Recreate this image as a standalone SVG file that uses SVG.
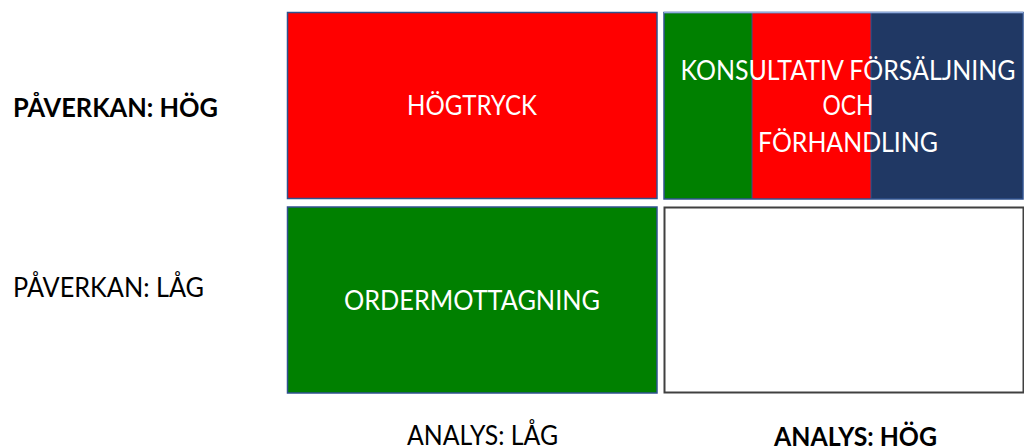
<svg xmlns="http://www.w3.org/2000/svg" width="1024" height="448" viewBox="0 0 1024 448">
  <style>
    .lbl { font-family: Lato, "Open Sans", "Liberation Sans", sans-serif; font-size: 26px; fill: #000; }
    .bold { font-weight: bold; }
    .inner { font-family: Lato, "Open Sans", "Liberation Sans", sans-serif; font-size: 26px; fill: #fff; text-anchor: middle; }
    .cell { stroke: #2F528F; stroke-width: 1.5; }
  </style>
  <rect width="1024" height="448" fill="#fff"/>

  <!-- axis labels -->
  <g id="axis-labels">
    <text class="lbl bold" x="13" y="117" textLength="205" lengthAdjust="spacingAndGlyphs">PÅVERKAN: HÖG</text>
    <text class="lbl" x="13" y="297" textLength="191" lengthAdjust="spacingAndGlyphs">PÅVERKAN: LÅG</text>
    <text class="lbl" x="407" y="445" textLength="151" lengthAdjust="spacingAndGlyphs">ANALYS: LÅG</text>
    <text class="lbl bold" x="774" y="446" textLength="163" lengthAdjust="spacingAndGlyphs">ANALYS: HÖG</text>
  </g>

  <!-- high impact, low analysis -->
  <g id="hogtryck">
    <rect class="cell" x="287.5" y="12.5" width="369.5" height="186" fill="#FF0000"/>
    <text class="inner" x="472" y="115" textLength="130" lengthAdjust="spacingAndGlyphs">HÖGTRYCK</text>
  </g>

  <!-- low impact, low analysis -->
  <g id="ordermottagning">
    <rect class="cell" x="287.5" y="207" width="369.5" height="186" fill="#008000"/>
    <text class="inner" x="472" y="310" textLength="256" lengthAdjust="spacingAndGlyphs">ORDERMOTTAGNING</text>
  </g>

  <!-- high impact, high analysis: three-colour band -->
  <g id="konsultativ">
    <rect x="664" y="12.5" width="88" height="186.5" fill="#008000"/>
    <rect x="752" y="12.5" width="119" height="186.5" fill="#FF0000"/>
    <rect x="871" y="12.5" width="152" height="186.5" fill="#203864"/>
    <rect class="cell" x="664" y="12.5" width="359" height="186.5" fill="none"/>
    <line x1="752" y1="12.5" x2="752" y2="199" stroke="#2F528F" stroke-width="1"/>
    <line x1="871" y1="12.5" x2="871" y2="199" stroke="#2F528F" stroke-width="1"/>
    <line x1="664" y1="12.5" x2="1023" y2="12.5" stroke="#8FAADC" stroke-width="1.5"/>
    <text class="inner" x="848" y="80" textLength="335" lengthAdjust="spacingAndGlyphs">KONSULTATIV FÖRSÄLJNING</text>
    <text class="inner" x="848" y="115" textLength="51" lengthAdjust="spacingAndGlyphs">OCH</text>
    <text class="inner" x="848" y="152" textLength="180" lengthAdjust="spacingAndGlyphs">FÖRHANDLING</text>
  </g>

  <!-- low impact, high analysis: empty -->
  <g id="tom">
    <rect x="664.5" y="207.5" width="359" height="185" fill="#fff" stroke="#404040" stroke-width="2"/>
  </g>

  <g id="connectors"/>
</svg>
